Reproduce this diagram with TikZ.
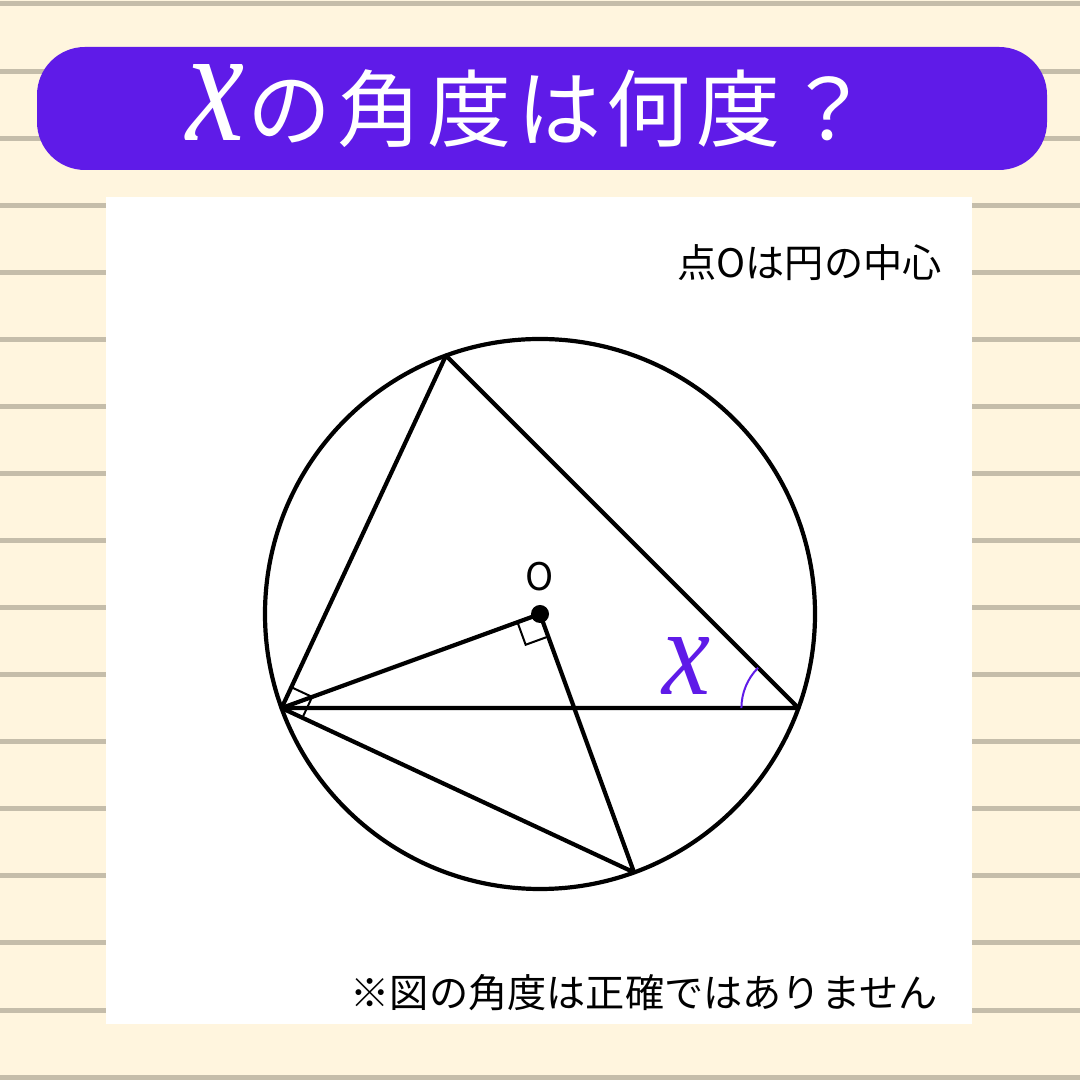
\documentclass[tikz,border=0pt]{standalone}
\usepackage{fontspec}
\usepackage{graphicx}
\newfontfamily\jp{Noto Sans CJK JP}
\newfontfamily\serifx{Liberation Serif}
\usetikzlibrary{calc}
\definecolor{cream}{RGB}{255,245,222}
\definecolor{rulegray}{RGB}{197,189,170}
\definecolor{titlepurple}{RGB}{95,27,232}
\tikzset{
  mainline/.style={line width=2.1pt, line join=round, line cap=round},
  markline/.style={line width=1pt},
  ruleline/.style={rulegray, line width=2.5pt},
}
\begin{document}
\begin{tikzpicture}[x=0.5pt,y=0.5pt]
\useasboundingbox (0,0) rectangle (1080,1080);
\fill[cream] (0,0) rectangle (1080,1080);
\foreach \k in {0,...,16} \draw[ruleline] (0,{1076-67.07*\k}) -- (1080,{1076-67.07*\k});
% title bar
\node[fill=titlepurple, rounded corners=24pt, minimum width=505pt, minimum height=61.5pt, inner sep=0] (bar) at (542,971.5) {};
\node[anchor=base west, inner sep=0, text=white] (ttl) at (186,939)
  {\resizebox{29pt}{38pt}{\serifx\itshape x}\hspace{1.5pt}{\jp\fontsize{42pt}{42pt}\selectfont\addfontfeature{LetterSpace=7}の角度は何度？}};
% white panel
\fill[white] (106,56) rectangle (972,883);
\node[anchor=east, inner sep=0, font=\jp\fontsize{19.6pt}{19.6pt}\selectfont] (note1) at (942,817) {点Oは円の中心};
\node[anchor=east, inner sep=0, font=\jp\fontsize{19.6pt}{19.6pt}\selectfont] (note2) at (938,87) {※図の角度は正確ではありません};
% geometry
\coordinate (O) at (540,466);
\coordinate (A) at ($(O)+(110:275)$);
\coordinate (B) at ($(O)+(200:275)$);
\coordinate (C) at ($(O)+(-20:275)$);
\coordinate (D) at ($(O)+(-70:275)$);
\draw[mainline] (O) circle[radius=275];
\draw[mainline] (B) -- (A) -- (C) -- cycle;
\draw[mainline] (B) -- (O) -- (D) -- cycle;
% right angle marks
\coordinate (o1) at ($(O)!12pt!(B)$);
\coordinate (o2) at ($(O)!12pt!(D)$);
\draw[markline] (o1) -- ($(o1)+(o2)-(O)$) -- (o2);
\coordinate (b1) at ($(B)!11.5pt!(A)$);
\coordinate (b2) at ($(B)!11.5pt!(D)$);
\draw[markline] (b1) -- ($(b1)+(b2)-(B)$) -- (b2);
% angle x
\draw[titlepurple, markline] let \p1=($(A)-(C)$), \n1={atan2(\y1,\x1)} in
  ($(C)+(180:28.5pt)$) arc[start angle=180, end angle=\n1, radius=28.5pt];
\node[inner sep=0, text=titlepurple] (xlab) at (686,414) {\resizebox{24pt}{28.5pt}{\serifx\itshape x}};
% centre
\fill (O) circle[radius=4.5pt];
\node[inner sep=0, font=\jp\fontsize{19pt}{19pt}\selectfont] (olab) at (540,503) {O};
\end{tikzpicture}
\end{document}
